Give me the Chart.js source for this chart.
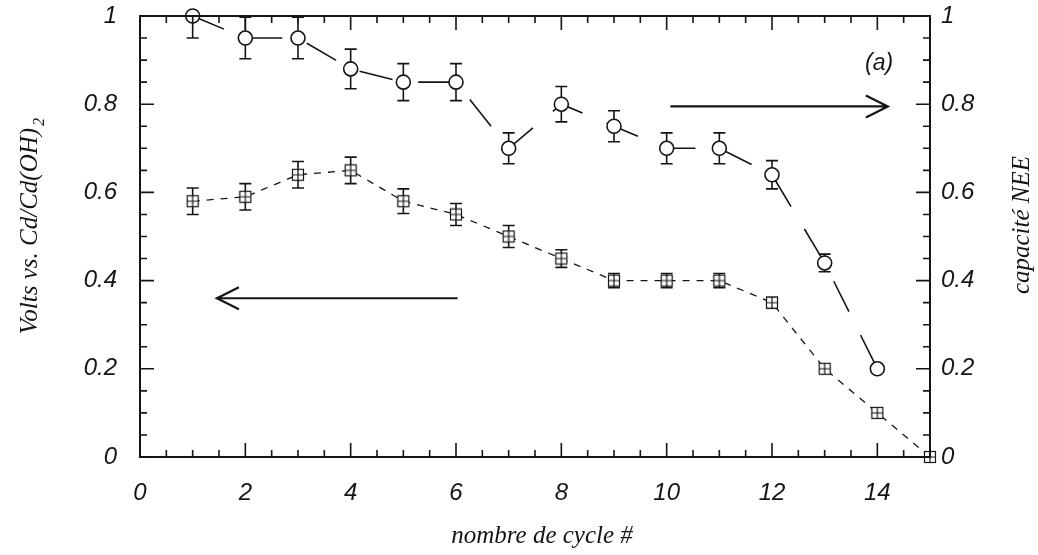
<!DOCTYPE html>
<html>
<head>
<meta charset="utf-8">
<title>capacité NEE / nombre de cycle</title>
<script src="https://cdn.jsdelivr.net/npm/chart.js@4.4.0/dist/chart.umd.min.js"></script>
<style>
    html, body { margin: 0; padding: 0; background: #fff; }
    #wrap { width: 1038px; height: 555px; position: relative; }
</style>
</head>
<body>
<div id="wrap"><canvas id="cycleChart"></canvas></div>
<script>
// --- data ---
const capCycles = [1, 2, 3, 4, 5, 6, 7, 8, 9, 10, 11, 12, 13, 14];
const capaciteNEE = [1.0, 0.95, 0.95, 0.88, 0.85, 0.85, 0.70, 0.80, 0.75, 0.70, 0.70, 0.64, 0.44, 0.20];
const capaciteErr = [0.05, 0.047, 0.047, 0.045, 0.042, 0.042, 0.035, 0.04, 0.035, 0.035, 0.035, 0.032, 0.02, 0];

const voltCycles = [1, 2, 3, 4, 5, 6, 7, 8, 9, 10, 11, 12, 13, 14, 15];
const voltsCd = [0.58, 0.59, 0.64, 0.65, 0.58, 0.55, 0.50, 0.45, 0.40, 0.40, 0.40, 0.35, 0.20, 0.10, 0.0];
const voltsErr = [0.03, 0.03, 0.03, 0.03, 0.028, 0.025, 0.025, 0.02, 0.016, 0.016, 0.016, 0.012, 0, 0, 0];

const xTickValues = [0, 2, 4, 6, 8, 10, 12, 14];
const yTickValues = [0, 0.2, 0.4, 0.6, 0.8, 1];

const INK = '#151515';
const tickFont = { family: 'Liberation Sans', size: 24, style: 'italic' };

// "1" and "0" plain, the rest with one decimal
const fmtY = v => (v === 0 || v === 1) ? String(v) : v.toFixed(1);

// square marker with a cross inside (as in the printed figure)
function makeSquareMarker() {
    const c = document.createElement('canvas');
    c.width = 14; c.height = 14;
    const g = c.getContext('2d');
    g.fillStyle = '#fff';
    g.fillRect(1.5, 1.5, 11, 11);
    g.strokeStyle = INK;
    g.lineWidth = 1.2;
    g.strokeRect(1.5, 1.5, 11, 11);
    g.beginPath();
    g.moveTo(7, 1.5); g.lineTo(7, 12.5);
    g.moveTo(1.5, 7); g.lineTo(12.5, 7);
    g.stroke();
    return c;
}

// Error bars, drawn under the markers
const errorBarPlugin = {
    id: 'errorBars',
    beforeDatasetsDraw(chart) {
        const ctx = chart.ctx;
        const area = chart.chartArea;
        const xs = chart.scales.x;
        ctx.save();
        ctx.beginPath();
        ctx.rect(area.left, area.top - 1, area.right - area.left, area.bottom - area.top + 2);
        ctx.clip();
        ctx.strokeStyle = INK;
        ctx.lineWidth = 1.6;
        chart.data.datasets.forEach(ds => {
            const ys = chart.scales[ds.yAxisID];
            ds.data.forEach((p, i) => {
                const e = ds.errors[i];
                if (!e) return;
                const px = xs.getPixelForValue(p.x);
                const top = ys.getPixelForValue(p.y + e);
                const bot = ys.getPixelForValue(p.y - e);
                ctx.beginPath();
                ctx.moveTo(px, top); ctx.lineTo(px, bot);
                ctx.moveTo(px - 6, top); ctx.lineTo(px + 6, top);
                ctx.moveTo(px - 6, bot); ctx.lineTo(px + 6, bot);
                ctx.stroke();
            });
        });
        ctx.restore();
    }
};

// Frame with inward ticks on the four sides
const framePlugin = {
    id: 'frameTicks',
    afterDraw(chart) {
        const ctx = chart.ctx;
        const a = chart.chartArea;
        const xs = chart.scales.x;
        const yl = chart.scales.y;
        const yr = chart.scales.y2;
        ctx.save();
        ctx.strokeStyle = INK;
        ctx.lineWidth = 2;
        ctx.strokeRect(a.left, a.top, a.right - a.left, a.bottom - a.top);

        ctx.lineWidth = 1.6;
        ctx.beginPath();
        for (let v = 0; v <= 15.001; v += 0.5) {
            const px = xs.getPixelForValue(v);
            const len = Math.abs(v % 2) < 1e-6 ? 14 : 7;
            ctx.moveTo(px, a.bottom); ctx.lineTo(px, a.bottom - len);
            ctx.moveTo(px, a.top); ctx.lineTo(px, a.top + len);
        }
        for (let k = 0; k <= 20; k++) {
            const v = k * 0.05;
            const len = k % 4 === 0 ? 14 : 7;
            const pl = yl.getPixelForValue(v);
            const pr = yr.getPixelForValue(v);
            ctx.moveTo(a.left, pl); ctx.lineTo(a.left + len, pl);
            ctx.moveTo(a.right, pr); ctx.lineTo(a.right - len, pr);
        }
        ctx.stroke();
        ctx.restore();
    }
};

// Arrows, panel label and axis titles
const arrows = [
    { from: [10.07, 0.795], to: [14.2, 0.795], axis: 'y2' },
    { from: [6.03, 0.36], to: [1.46, 0.36], axis: 'y' }
];
const panelLabel = { text: '(a)', at: [14.3, 0.893] };

const annotationPlugin = {
    id: 'annotations',
    afterDraw(chart) {
        const ctx = chart.ctx;
        const a = chart.chartArea;
        const xs = chart.scales.x;
        ctx.save();
        ctx.strokeStyle = INK;
        ctx.fillStyle = INK;
        ctx.lineWidth = 2.2;
        arrows.forEach(ar => {
            const ys = chart.scales[ar.axis];
            const x1 = xs.getPixelForValue(ar.from[0]);
            const x2 = xs.getPixelForValue(ar.to[0]);
            const y = ys.getPixelForValue(ar.from[1]);
            const dir = x2 > x1 ? 1 : -1;
            ctx.beginPath();
            ctx.moveTo(x1, y); ctx.lineTo(x2, y);
            ctx.moveTo(x2 - dir * 22, y - 11); ctx.lineTo(x2, y); ctx.lineTo(x2 - dir * 22, y + 11);
            ctx.stroke();
        });

        ctx.font = 'italic 23px "Liberation Sans"';
        ctx.textAlign = 'right';
        ctx.textBaseline = 'middle';
        ctx.fillText(panelLabel.text, xs.getPixelForValue(panelLabel.at[0]), chart.scales.y2.getPixelForValue(panelLabel.at[1]));

        // axis titles
        ctx.font = 'italic 25px "Liberation Serif"';
        ctx.textAlign = 'center';
        ctx.textBaseline = 'alphabetic';
        ctx.fillText('nombre de cycle #', (a.left + a.right) / 2 + 7, 543);

        ctx.save();
        ctx.translate(37, 226);
        ctx.rotate(-Math.PI / 2);
        const main = 'Volts vs. Cd/Cd(OH)';
        const w = ctx.measureText(main).width;
        ctx.textAlign = 'left';
        ctx.fillText(main, -w / 2 - 5, 0);
        ctx.font = 'italic 16px "Liberation Serif"';
        ctx.fillText('2', w / 2 - 3, 7);
        ctx.restore();

        ctx.save();
        ctx.translate(1029, 225);
        ctx.rotate(-Math.PI / 2);
        ctx.textAlign = 'center';
        ctx.fillText('capacité NEE', 0, 0);
        ctx.restore();

        ctx.restore();
    }
};

// fixed box sizes so the plot area sits where it does in the figure
function fixVertical(width) {
    return s => { s.width = width; s.paddingTop = 0; s.paddingBottom = 0; };
}

const ctx = document.getElementById('cycleChart').getContext('2d');
new Chart(ctx, {
    type: 'scatter',
    data: {
        datasets: [
            {
                label: 'capacité NEE',
                yAxisID: 'y2',
                data: capCycles.map((c, i) => ({ x: c, y: capaciteNEE[i] })),
                errors: capaciteErr,
                showLine: true,
                borderColor: INK,
                borderWidth: 1.6,
                borderDash: [34, 26],
                pointStyle: 'circle',
                pointRadius: 7,
                pointBackgroundColor: '#fff',
                pointBorderColor: INK,
                pointBorderWidth: 1.6,
                clip: false
            },
            {
                label: 'Volts vs. Cd/Cd(OH)2',
                yAxisID: 'y',
                data: voltCycles.map((c, i) => ({ x: c, y: voltsCd[i] })),
                errors: voltsErr,
                showLine: true,
                borderColor: INK,
                borderWidth: 1.3,
                borderDash: [7, 7],
                pointStyle: makeSquareMarker(),
                pointRadius: 6,
                clip: false
            }
        ]
    },
    options: {
        responsive: true,
        maintainAspectRatio: false,
        animation: false,
        layout: { padding: { top: 16 } },
        plugins: {
            legend: { display: false },
            tooltip: { enabled: false }
        },
        scales: {
            x: {
                type: 'linear',
                position: 'bottom',
                min: 0,
                max: 15,
                grid: { display: false, drawTicks: false },
                border: { display: false },
                afterBuildTicks: s => { s.ticks = xTickValues.map(v => ({ value: v })); },
                ticks: { font: tickFont, color: INK, padding: 22, maxRotation: 0 },
                afterFit: s => { s.height = 98; s.paddingLeft = 0; s.paddingRight = 0; }
            },
            y: {
                position: 'left',
                min: 0,
                max: 1,
                grid: { display: false, drawTicks: false },
                border: { display: false },
                afterBuildTicks: s => { s.ticks = yTickValues.map(v => ({ value: v })); },
                ticks: { font: tickFont, color: INK, padding: 23, callback: fmtY },
                afterFit: fixVertical(140)
            },
            y2: {
                position: 'right',
                min: 0,
                max: 1,
                grid: { display: false, drawTicks: false },
                border: { display: false },
                afterBuildTicks: s => { s.ticks = yTickValues.map(v => ({ value: v })); },
                ticks: { font: tickFont, color: INK, padding: 11, callback: fmtY },
                afterFit: fixVertical(108)
            }
        }
    },
    plugins: [errorBarPlugin, framePlugin, annotationPlugin]
});
</script>
</body>
</html>
